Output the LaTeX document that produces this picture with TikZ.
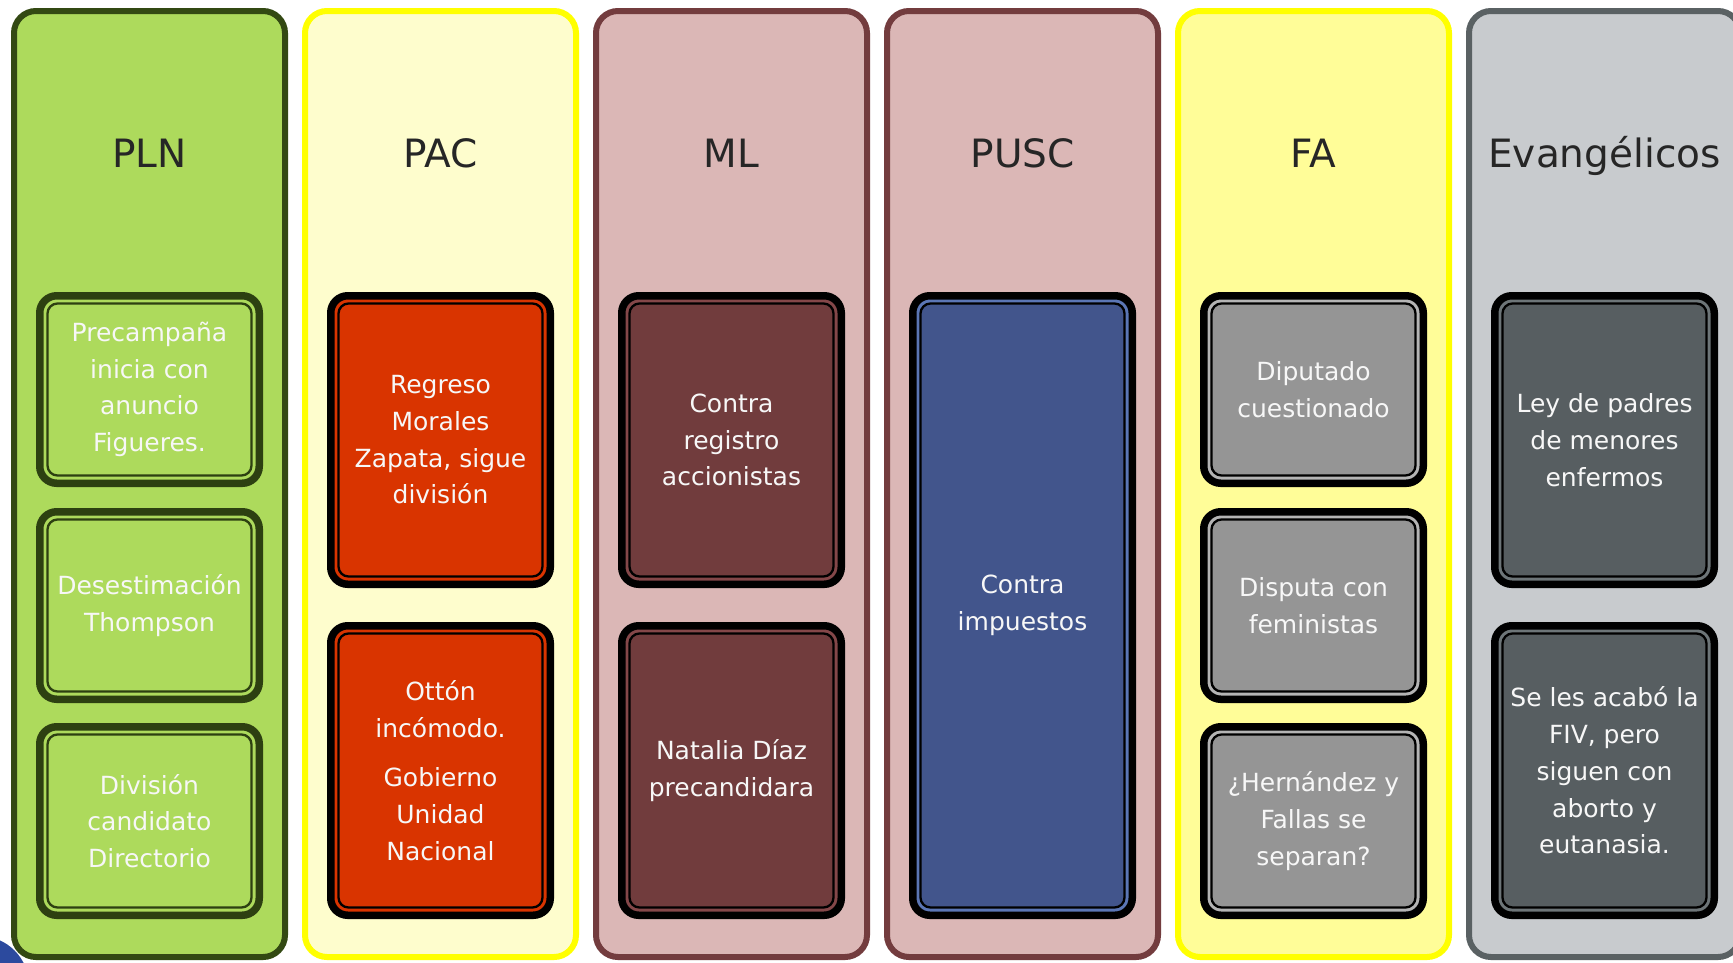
\documentclass[tikz,border=0pt]{standalone}
\usepackage{fontspec}
\setmainfont{DejaVu Sans}
\definecolor{plnfill}{HTML}{ADDA5C}
\definecolor{plnbd}{HTML}{334913}
\definecolor{plnbox}{HTML}{2D4011}
\definecolor{pacfill}{HTML}{FEFDCD}
\definecolor{yelbd}{HTML}{FFFF00}
\definecolor{pacbox}{HTML}{D93400}
\definecolor{mlfill}{HTML}{DBB7B6}
\definecolor{mlbd}{HTML}{733C3E}
\definecolor{mlbox}{HTML}{713C3D}
\definecolor{mlgap}{HTML}{844749}
\definecolor{puscbox}{HTML}{42558C}
\definecolor{puscgap}{HTML}{5B76B5}
\definecolor{fafill}{HTML}{FFFD98}
\definecolor{fabox}{HTML}{959595}
\definecolor{fagap}{HTML}{B4B4B4}
\definecolor{evfill}{HTML}{C8CBCE}
\definecolor{evbd}{HTML}{5A6163}
\definecolor{evbox}{HTML}{575E61}
\definecolor{evgap}{HTML}{6D7578}
\definecolor{titlecol}{HTML}{262626}
\definecolor{boxtext}{HTML}{F7F7F7}
\definecolor{blobblue}{HTML}{2C4A9E}
\tikzset{
  colbox/.style={rectangle, rounded corners=22pt, line width=6pt, minimum width=271pt, minimum height=946pt, inner sep=0pt},
  coltitle/.style={anchor=base, text=titlecol, font=\fontsize{39}{46}\selectfont, inner sep=0pt},
  outerbox/.style={rectangle, rounded corners=17pt, line width=7.5pt, minimum width=219.5pt, inner sep=0pt},
  innerbox/.style={rectangle, rounded corners=10pt, line width=2.3pt, minimum width=204pt, inner sep=0pt,
    align=center, text=boxtext, font=\fontsize{25}{36.7}\selectfont},
  plnout/.style={fill=plnfill, draw=plnbox},
  plnin/.style={fill=plnfill, draw=plnbox},
  pacout/.style={fill=pacbox, draw=black},
  pacin/.style={fill=pacbox, draw=black},
  mlout/.style={fill=mlgap, draw=black},
  mlin/.style={fill=mlbox, draw=black},
  puscout/.style={fill=puscgap, draw=black},
  puscin/.style={fill=puscbox, draw=black},
  faout/.style={fill=fagap, draw=black},
  fain/.style={fill=fabox, draw=black},
  evout/.style={fill=evgap, draw=black},
  evin/.style={fill=evbox, draw=black},
}
\newcommand\ibox[6]{%
  \node[outerbox,#5out, minimum height={#4-#3-7.5}] (#1o) at (#2,{(#3+#4)/2}) {};
  \node[innerbox,#5in, minimum height={#4-#3-23}] (#1) at (#2,{(#3+#4)/2}) {#6};
}
\begin{document}
\begin{tikzpicture}[x=1pt,y=-1pt]
\useasboundingbox (0,0) rectangle (1733,962);
\clip (0,0) rectangle (1733,962);
\fill[white] (0,0) rectangle (1733,962);
\draw[fill=blobblue, draw=white, line width=2pt] (-20,985) circle (50);
% columns
\node[colbox, fill=plnfill, draw=plnbd] (cPLN) at (149.5,484) {};
\node[colbox, fill=pacfill, draw=yelbd] (cPAC) at (440.5,484) {};
\node[colbox, fill=mlfill, draw=mlbd] (cML) at (731.5,484) {};
\node[colbox, fill=mlfill, draw=mlbd] (cPUSC) at (1022.5,484) {};
\node[colbox, fill=fafill, draw=yelbd] (cFA) at (1313.5,484) {};
\node[colbox, fill=evfill, draw=evbd] (cEV) at (1604.5,484) {};
% titles
\node[coltitle] (tPLN) at (149.5,167) {PLN};
\node[coltitle] (tPAC) at (440.5,167) {PAC};
\node[coltitle] (tML) at (731.5,167) {ML};
\node[coltitle] (tPUSC) at (1022.5,167) {PUSC};
\node[coltitle] (tFA) at (1313.5,167) {FA};
\node[coltitle] (tEV) at (1604.5,167) {Evangélicos};
% PLN
\ibox{pln1}{149.5}{292}{487}{pln}{Precampaña\\inicia con\\anuncio\\Figueres.}
\ibox{pln2}{149.5}{508}{703}{pln}{Desestimación\\Thompson}
\ibox{pln3}{149.5}{723}{919}{pln}{División\\candidato\\Directorio}
% PAC
\ibox{pac1}{440.5}{292}{588}{pac}{Regreso\\Morales\\Zapata, sigue\\división}
\ibox{pac2}{440.5}{622}{919}{pac}{Ottón\\incómodo.\\[13pt]Gobierno\\Unidad\\Nacional}
% ML
\ibox{ml1}{731.5}{292}{588}{ml}{Contra\\registro\\accionistas}
\ibox{ml2}{731.5}{622}{919}{ml}{Natalia Díaz\\precandidara}
% PUSC
\ibox{pusc1}{1022.5}{292}{919}{pusc}{Contra\\impuestos}
% FA
\ibox{fa1}{1313.5}{292}{487}{fa}{Diputado\\cuestionado}
\ibox{fa2}{1313.5}{508}{703}{fa}{Disputa con\\feministas}
\ibox{fa3}{1313.5}{723}{919}{fa}{¿Hernández y\\Fallas se\\separan?}
% Evangelicos
\ibox{ev1}{1604.5}{292}{588}{ev}{Ley de padres\\de menores\\enfermos}
\ibox{ev2}{1604.5}{622}{919}{ev}{Se les acabó la\\FIV, pero\\siguen con\\aborto y\\eutanasia.}
\end{tikzpicture}
\end{document}
